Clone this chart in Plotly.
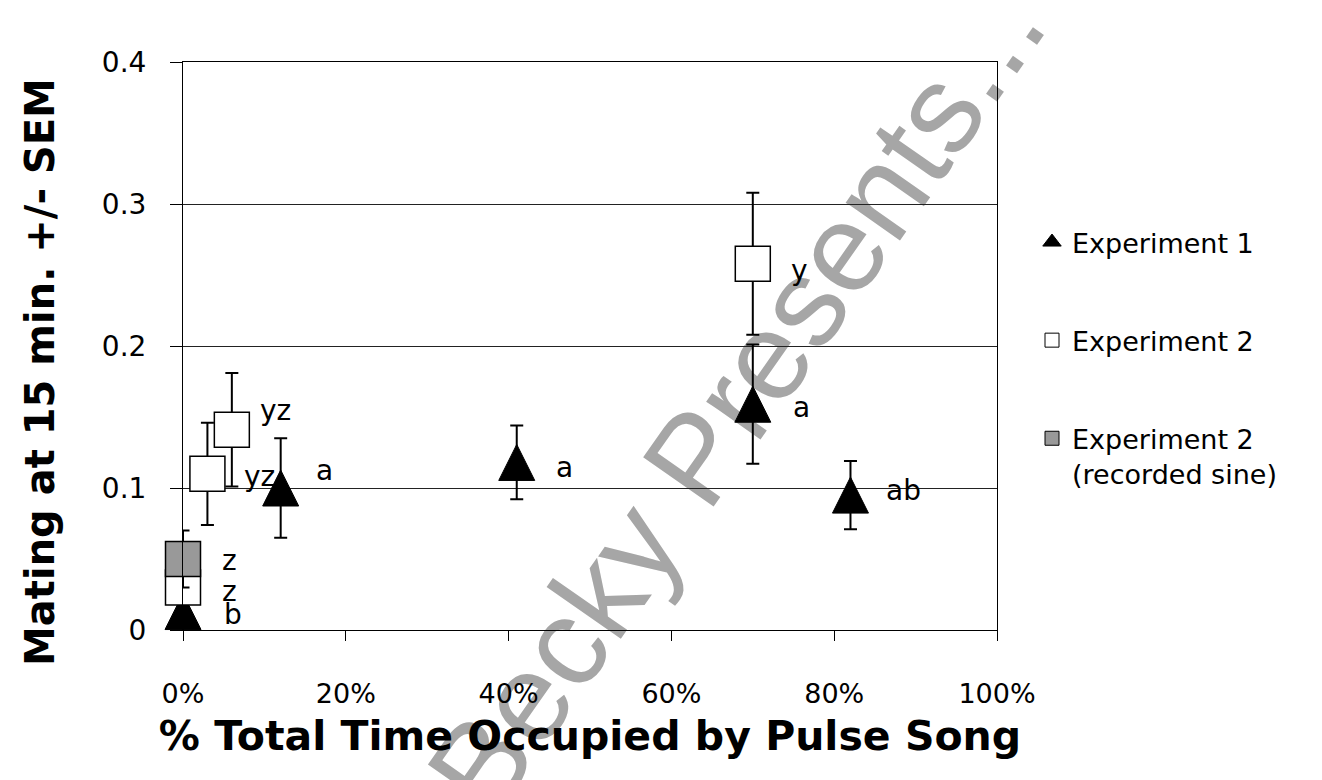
import plotly.graph_objects as go

# Experiment 1 (synthetic pulse song, % of time occupied)
exp1_x = [0.00, 0.12, 0.41, 0.70, 0.82]
exp1_y = [0.013, 0.100, 0.118, 0.159, 0.095]
exp1_sem = [0.020, 0.035, 0.026, 0.042, 0.024]
exp1_labels = ["b", "a", "a", "a", "ab"]

# Experiment 2
exp2_x = [0.00, 0.03, 0.06, 0.70]
exp2_y = [0.030, 0.110, 0.141, 0.258]
exp2_sem = [0.015, 0.036, 0.040, 0.050]
exp2_labels = ["z", "yz", "yz", "y"]

# Experiment 2, recorded sine song
sine_x = [0.00]
sine_y = [0.050]
sine_sem = [0.020]
sine_labels = ["z"]

x_ticks = [0, 0.2, 0.4, 0.6, 0.8, 1.0]
y_ticks = [0, 0.1, 0.2, 0.3, 0.4]

FONT = "DejaVu Sans"
W, H = 1322, 780
ML, MR, MT, MB = 183, 325, 62, 150
PW, PH = W - ML - MR, H - MT - MB


def px_to_paper(px, py):
    return (px - ML) / PW, (H - MB - py) / PH


err_style = dict(type="data", visible=True, color="black", thickness=2, width=6.5)

fig = go.Figure()

# Upward triangle centred on the point: a down-arrow rotated 180 degrees
tri_size = 36
fig.add_trace(go.Scatter(
    x=exp1_x, y=exp1_y, mode="markers", showlegend=False, cliponaxis=False,
    error_y=dict(array=exp1_sem, **err_style),
    marker=dict(symbol="arrow-down", angle=180, standoff=tri_size / 2,
                size=tri_size, color="black", line=dict(color="black", width=1)),
))
fig.add_trace(go.Scatter(
    x=exp2_x, y=exp2_y, mode="markers", showlegend=False, cliponaxis=False,
    error_y=dict(array=exp2_sem, **err_style),
    marker=dict(symbol="square", size=35, color="white",
                line=dict(color="black", width=1.5)),
))
fig.add_trace(go.Scatter(
    x=sine_x, y=sine_y, mode="markers", showlegend=False, cliponaxis=False,
    error_y=dict(array=sine_sem, **err_style),
    marker=dict(symbol="square", size=35, color="#999999",
                line=dict(color="black", width=1.5)),
))

# Legend entries
legend_entries = [
    ("Experiment 1", "triangle-up", "black", 16),
    ("Experiment 2", "square", "white", 14),
    ("Experiment 2<br>(recorded sine)", "square", "#999999", 14),
]
for i, (name, sym, col, sz) in enumerate(legend_entries):
    fig.add_trace(go.Scatter(
        x=[None], y=[None], mode="markers", name=name, legendgroup=f"g{i}",
        marker=dict(symbol=sym, size=sz, color=col, line=dict(color="black", width=1)),
    ))

# Significance letters beside each point (left offset, vertical offset in px)
label_offsets = {
    "exp1": [(39, -3), (33, 18), (37, -5), (38, -3), (34, 5)],
    "exp2": [(37, -4), (35, -3), (26, 19), (36, -7)],
    "sine": [(37, -1)],
}
annotations = []
for xs, ys, labs, key in [(exp1_x, exp1_y, exp1_labels, "exp1"),
                          (exp2_x, exp2_y, exp2_labels, "exp2"),
                          (sine_x, sine_y, sine_labels, "sine")]:
    for xv, yv, lab, (dx, dy) in zip(xs, ys, labs, label_offsets[key]):
        annotations.append(dict(
            x=xv, y=yv, xref="x", yref="y", text=lab, showarrow=False,
            xanchor="left", yanchor="middle", xshift=dx, yshift=dy,
            font=dict(family=FONT, size=28, color="black"),
        ))

# Y-axis title
ytx, yty = px_to_paper(40, 372)
annotations.append(dict(
    x=ytx, y=yty, xref="paper", yref="paper", showarrow=False,
    text="<b>Mating at 15 min. +/- SEM</b>", textangle=-90,
    xanchor="center", yanchor="middle",
    font=dict(family=FONT, size=40, color="black"),
))

# Watermark, drawn underneath the grid and the data
wx, wy = px_to_paper(726, 392)
shapes = [dict(
    type="rect", xref="paper", yref="paper", layer="below",
    x0=wx - 0.01, x1=wx + 0.01, y0=wy - 0.01, y1=wy + 0.01,
    line=dict(width=0), fillcolor="rgba(0,0,0,0)",
    label=dict(text="Becky Presents...", textangle=-55, textposition="middle center",
               font=dict(family="Liberation Sans", size=125, color="#a6a6a6")),
)]

lx, ly = px_to_paper(1032, 218)
fig.update_layout(
    width=W, height=H,
    margin=dict(l=ML, r=MR, t=MT, b=MB),
    paper_bgcolor="white", plot_bgcolor="rgba(0,0,0,0)",
    font=dict(family=FONT, size=28, color="black"),
    showlegend=True,
    legend=dict(
        x=lx, y=ly, xanchor="left", yanchor="top", tracegroupgap=60, valign="top",
        font=dict(family=FONT, size=27, color="black"),
        bgcolor="rgba(0,0,0,0)",
    ),
    annotations=annotations,
    shapes=shapes,
    xaxis=dict(
        range=[0, 1], tickvals=x_ticks, tickformat=".0%",
        showgrid=False, zeroline=False,
        showline=True, linecolor="black", linewidth=1, mirror=True,
        ticks="outside", ticklen=10, tickcolor="black", tickwidth=1,
        ticklabelstandoff=30,
        tickfont=dict(family=FONT, size=27),
        title=dict(text="<b>% Total Time Occupied by Pulse Song</b>",
                   font=dict(family=FONT, size=41), standoff=12),
        automargin=False,
    ),
    yaxis=dict(
        range=[0, 0.4], tickvals=y_ticks,
        showgrid=True, gridcolor="#222222", gridwidth=1, zeroline=False,
        showline=True, linecolor="black", linewidth=1, mirror=True,
        ticks="outside", ticklen=12, tickcolor="black", tickwidth=1,
        ticklabelstandoff=18,
        tickfont=dict(family=FONT, size=28),
        automargin=False,
    ),
)

fig.write_html("out.html")
